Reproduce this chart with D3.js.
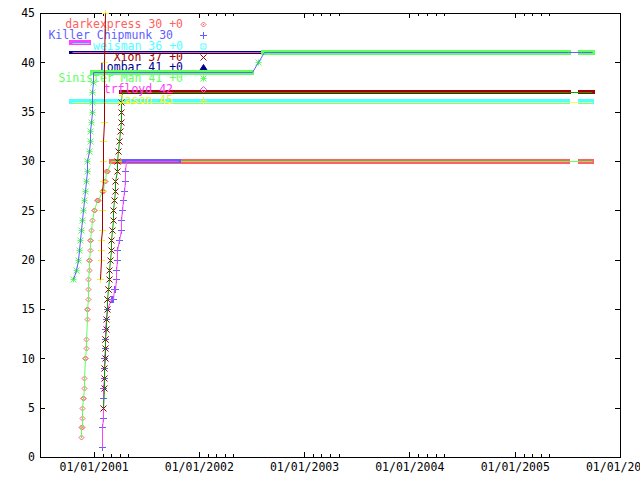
<!DOCTYPE html>
<html><head><meta charset="utf-8">
<script src="https://cdn.jsdelivr.net/npm/d3@7"></script>
<style>
body{margin:0;background:#fff}
svg{display:block}
text{font-family:"DejaVu Sans Mono","Liberation Mono",monospace;font-size:11.5px}
</style>
</head><body>
<svg id="chart" width="640" height="480"></svg>
<script>
// ---------- DATA ----------
const players = ["darkexpress","Killer Chipmunk","weisman","Xion","Lombar","Sinister Man","trfloyd","Jason"];
const legendLabels = ["darkexpress 30 +0","Killer Chipmunk 30","weisman 36 +0","Xion 37 +0","Lombar 41 +0","Sinister Man 41 +0","trfloyd 42","Jason 45"];

// individual points [date, level]
const darkexpressPts = [["2000-11-17",2],["2000-11-19",3],["2000-11-20",3],["2000-11-21",4],["2000-11-22",5],["2000-11-24",6],["2000-11-25",6],["2000-11-27",7],["2000-11-29",8],["2000-12-02",10],["2000-12-03",10],["2000-12-04",11],["2000-12-06",12],["2000-12-08",14],["2000-12-09",15],["2000-12-10",15],["2000-12-11",16],["2000-12-13",17],["2000-12-14",18],["2000-12-15",19],["2000-12-16",20],["2000-12-17",20],["2000-12-18",21],["2000-12-19",22],["2000-12-20",22],["2000-12-22",23],["2000-12-26",24],["2001-01-02",25],["2001-01-04",25],["2001-01-12",26],["2001-01-14",26],["2001-01-16",26],["2001-01-29",27],["2001-01-31",27],["2001-02-02",27],["2001-02-07",28],["2001-02-08",28],["2001-02-14",29],["2001-02-16",29],["2001-02-18",29]];
const killerChipmunkPts = [["2001-01-30",1],["2001-01-31",3],["2001-02-01",4],["2001-02-02",6],["2001-02-04",7],["2001-02-05",8],["2001-02-06",9],["2001-02-07",10],["2001-02-08",11],["2001-02-09",12],["2001-02-11",13],["2001-02-13",14],["2001-02-15",15],["2001-03-03",16],["2001-03-05",16],["2001-03-08",16],["2001-03-14",17],["2001-03-17",17],["2001-03-19",18],["2001-03-21",19],["2001-03-22",20],["2001-03-24",21],["2001-03-29",22],["2001-04-05",23],["2001-04-07",24],["2001-04-09",25],["2001-04-14",26],["2001-04-16",27],["2001-04-19",28],["2001-04-21",29]];
const weismanPts = [];
const xionPts = [["2001-02-03",5],["2001-02-05",7],["2001-02-06",8],["2001-02-07",9],["2001-02-08",10],["2001-02-09",11],["2001-02-10",12],["2001-02-11",12],["2001-02-12",13],["2001-02-13",14],["2001-02-15",15],["2001-02-17",16],["2001-02-18",16],["2001-02-20",17],["2001-02-21",17],["2001-02-22",18],["2001-02-24",19],["2001-02-27",20],["2001-03-01",21],["2001-03-03",22],["2001-03-07",23],["2001-03-08",24],["2001-03-10",25],["2001-03-13",26],["2001-03-15",27],["2001-03-17",28],["2001-03-22",29],["2001-03-24",30],["2001-03-28",31],["2001-03-31",32],["2001-04-02",33],["2001-04-05",34],["2001-04-06",35],["2001-04-07",36]];
const lombarPts = [];
const sinisterManPts = [["2000-10-23",18],["2000-11-01",19],["2000-11-08",20],["2000-11-11",21],["2000-11-15",22],["2000-11-17",23],["2000-11-20",24],["2000-11-25",25],["2000-11-29",26],["2000-12-02",27],["2000-12-04",28],["2000-12-08",29],["2000-12-09",30],["2000-12-15",31],["2000-12-18",32],["2000-12-21",33],["2000-12-23",34],["2000-12-25",35],["2000-12-27",36],["2000-12-28",37],["2000-12-29",38],["2002-07-24",40]];
const trfloydPts = [];
const jasonPts = [["2001-01-23",18],["2001-01-26",20],["2001-01-27",21],["2001-01-28",22],["2001-01-29",23],["2001-01-30",25],["2001-01-31",27],["2001-02-01",28],["2001-02-02",30],["2001-02-03",32],["2001-02-05",34],["2001-02-06",36],["2001-02-07",40],["2001-02-08",45]];

// daily runs at a constant level [start, end, level]
const darkexpressRuns = [["2001-03-03","2005-07-03",30],["2005-08-18","2005-09-25",30]];
const killerChipmunkRuns = [["2001-04-22","2001-10-21",30]];
const weismanRuns = [["2000-10-18","2005-07-03",36],["2005-08-18","2005-09-25",36]];
const xionRuns = [["2001-04-09","2005-07-03",37],["2005-08-18","2005-09-25",37]];
const lombarRuns = [["2000-10-18","2005-07-03",41],["2005-08-18","2005-09-25",41]];
const sinisterManRuns = [["2000-12-31","2002-07-03",39],["2002-08-14","2005-07-03",41],["2005-08-18","2005-09-25",41]];
const trfloydRuns = [["2000-10-18","2000-12-16",42]];
const jasonRuns = [];

const yTicks = [0,5,10,15,20,25,30,35,40,45];
const xMajorTicks = ["2001-01-01","2002-01-01","2003-01-01","2004-01-01","2005-01-01","2006-01-01"];
const xMinorTicks = ["2001-02-01","2001-03-01","2001-04-01","2001-05-01","2002-02-01","2002-03-01","2002-04-01","2002-05-01","2003-02-01","2003-03-01","2003-04-01","2003-05-01","2004-02-01","2004-03-01","2004-04-01","2004-05-01","2005-02-01","2005-03-01","2005-04-01","2005-05-01"];

const allPts = [darkexpressPts,killerChipmunkPts,weismanPts,xionPts,lombarPts,sinisterManPts,trfloydPts,jasonPts];
const allRuns = [darkexpressRuns,killerChipmunkRuns,weismanRuns,xionRuns,lombarRuns,sinisterManRuns,trfloydRuns,jasonRuns];

// ---------- STYLE ----------
const styles = [
  {pc:"#ff6060", lc:"#60ff60", shape:"diamondDot", r:2.5, bh:5},
  {pc:"#6060ff", lc:"#ff40ff", shape:"plus", r:3.5, bh:4},
  {pc:"#50ffff", lc:"#ffff40", shape:"boxDot", r:2.5, bh:5},
  {pc:"#a00000", lc:"#00a000", shape:"cross", r:3, bh:4},
  {pc:"#000090", lc:"#ff6060", shape:"triangle", r:3, bh:3},
  {pc:"#60ff60", lc:"#6060ff", shape:"star", r:3, bh:5},
  {pc:"#ff40ff", lc:"#50ffff", shape:"diamond", r:2.5, bh:5},
  {pc:"#f0f030", lc:"#a00000", shape:"plus", r:3.5, bh:4}
];

const parse = d3.timeParse("%Y-%m-%d");
const L=40,R=620,T=13,B=457;
const svg = d3.select("#chart");
svg.append("rect").attr("width",640).attr("height",480).attr("fill","#fff");

const x = d3.scaleTime().domain([parse("2000-06-29"), parse("2006-01-01")]).range([L,R]);
const y = d3.scaleLinear().domain([0,45]).range([B,T]);

function symPath(shape, r){
  switch(shape){
    case "diamondDot": return `M0,${-r}L${r},0L0,${r}L${-r},0Z M-0.5,0h1`;
    case "plus": return `M${-r},0H${r}M0,${-r}V${r}`;
    case "boxDot": return `M${-r},${-r}H${r}V${r}H${-r}Z M-0.5,0h1`;
    case "cross": return `M${-r},${-r}L${r},${r}M${-r},${r}L${r},${-r}`;
    case "triangle": return `M0,${-r}L${r+0.5},${r-0.5}L${-r-0.5},${r-0.5}Z`;
    case "star": return `M${-r},0H${r}M0,${-r}V${r}M${-r},${-r}L${r},${r}M${-r},${r}L${r},${-r}`;
    case "diamond": return `M0,${-r-0.5}L${r+0.5},0L0,${r+0.5}L${-r-0.5},0Z`;
  }
}
function drawSym(g, st, cx, cy){
  g.append("path")
    .attr("transform",`translate(${Math.round(cx)+0.5},${Math.round(cy)+0.5})`)
    .attr("d", symPath(st.shape, st.r))
    .attr("fill", st.shape==="triangle" ? st.pc : "none")
    .attr("stroke", st.pc).attr("stroke-width",1);
}

// clip
svg.append("clipPath").attr("id","clip").append("rect")
  .attr("x",L).attr("y",T-4).attr("width",R-L).attr("height",B-T+4);

// axes
const fmt = d3.timeFormat("%m/%d/%Y");
const gx = svg.append("g").attr("transform",`translate(0,${B})`)
  .call(d3.axisBottom(x).tickValues(xMajorTicks.map(parse)).tickFormat(fmt).tickSizeInner(-5).tickSizeOuter(0).tickPadding(6));
const gxm = svg.append("g").attr("transform",`translate(0,${B})`)
  .call(d3.axisBottom(x).tickValues(xMinorTicks.map(parse)).tickFormat("").tickSizeInner(-3).tickSizeOuter(0));
const gxt = svg.append("g").attr("transform",`translate(0,${T})`)
  .call(d3.axisTop(x).tickValues(xMajorTicks.map(parse)).tickFormat("").tickSizeInner(-5).tickSizeOuter(0));
const gxtm = svg.append("g").attr("transform",`translate(0,${T})`)
  .call(d3.axisTop(x).tickValues(xMinorTicks.map(parse)).tickFormat("").tickSizeInner(-3).tickSizeOuter(0));
const gy = svg.append("g").attr("transform",`translate(${L},0)`)
  .call(d3.axisLeft(y).tickValues(yTicks).tickSizeInner(-5).tickSizeOuter(0).tickPadding(5));
const gyr = svg.append("g").attr("transform",`translate(${R},0)`)
  .call(d3.axisRight(y).tickValues(yTicks).tickFormat("").tickSizeInner(-5).tickSizeOuter(0));
[gx,gxm,gxt,gxtm,gy,gyr].forEach(g=>{
  g.select(".domain").remove();
  g.selectAll("line").attr("stroke","#000").attr("shape-rendering","crispEdges");
  g.selectAll("text").attr("fill","#000").style("font-family",'"DejaVu Sans Mono",monospace').style("font-size","11.5px");
});
svg.append("rect").attr("x",L+0.5).attr("y",T+0.5).attr("width",R-L).attr("height",B-T)
  .attr("fill","none").attr("stroke","#000").attr("shape-rendering","crispEdges");

// series, drawn in order: key entry, points, line
const plot = svg.append("g");
players.forEach((p,i)=>{
  const st = styles[i];
  const ly = 24 + 10.86*i;
  const hasSuffix = / \+0$/.test(legendLabels[i]);
  plot.append("text").attr("x", hasSuffix ? 183 : 173).attr("y", ly).attr("dy","0.35em")
    .attr("text-anchor","end").attr("fill", st.pc).text(legendLabels[i]);
  drawSym(plot, st, 203, ly);

  const g = plot.append("g").attr("clip-path","url(#clip)");
  allRuns[i].forEach(rn=>{
    const x0 = x(parse(rn[0])), x1 = x(parse(rn[1]));
    g.append("rect").attr("x", Math.round(x0 - st.r)).attr("width", Math.round(x1 - x0 + 2*st.r))
      .attr("y", Math.round(y(rn[2]) - st.bh/2)).attr("height", st.bh)
      .attr("fill", st.pc).attr("shape-rendering","crispEdges");
  });
  allPts[i].forEach(pt=> drawSym(g, st, x(parse(pt[0])), y(pt[1])));

  const lineData = allPts[i].map(d=>({d:parse(d[0]), v:d[1]}));
  allRuns[i].forEach(rn=>{ lineData.push({d:parse(rn[0]),v:rn[2]}); lineData.push({d:parse(rn[1]),v:rn[2]}); });
  lineData.sort((a,b)=>a.d-b.d);
  g.append("path").datum(lineData)
    .attr("d", d3.line().x(d=>Math.round(x(d.d))+0.5).y(d=>Math.round(y(d.v))+0.5))
    .attr("fill","none").attr("stroke", st.lc).attr("stroke-width",1);
});
</script>
</body></html>
